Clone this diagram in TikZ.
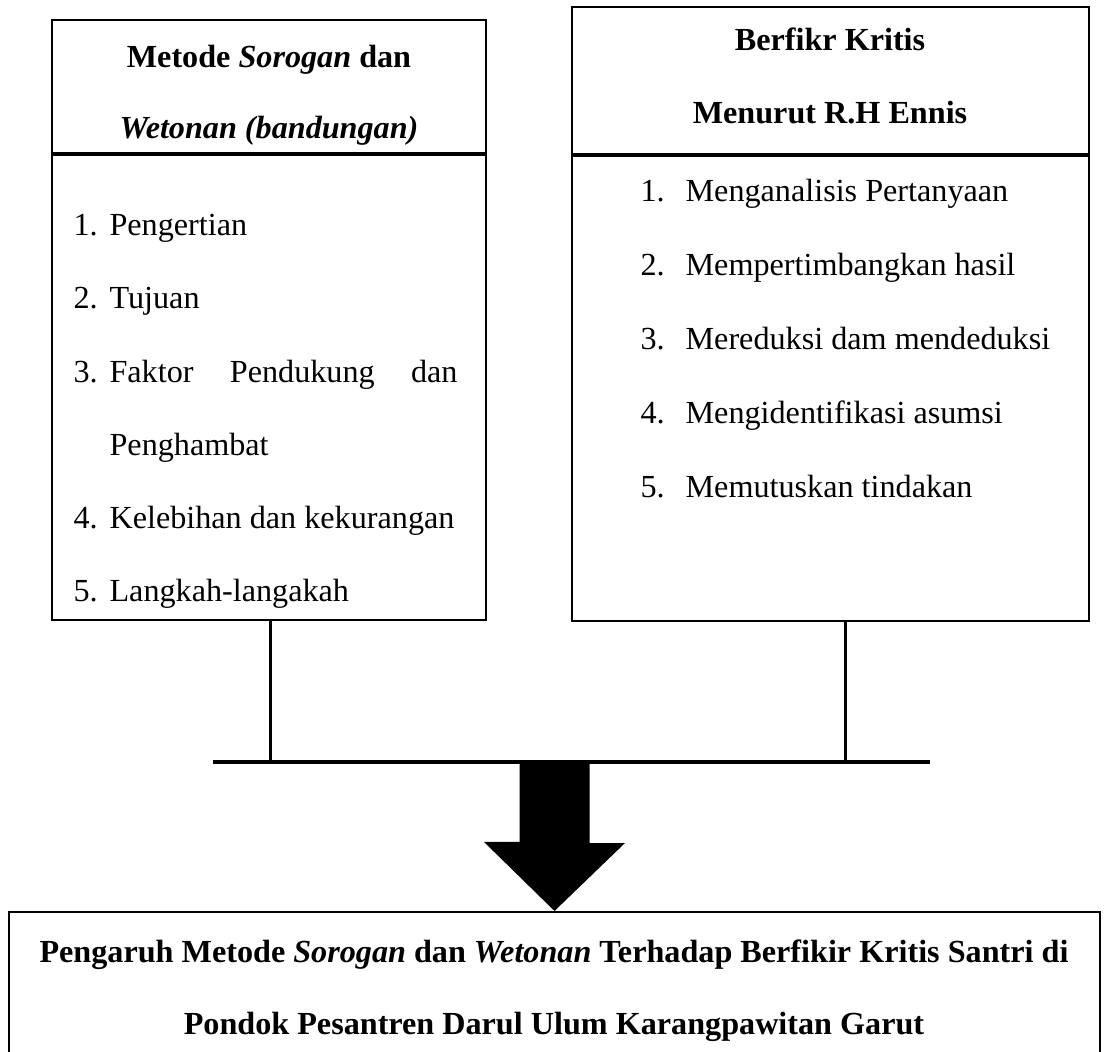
\documentclass[tikz,border=0pt]{standalone}
\usepackage{fontspec}
\setmainfont{Liberation Serif}
\usepackage{tikz}
\usetikzlibrary{calc, fit, positioning}
\tikzstyle{kotak}=[rectangle, draw, line width=0.75pt, inner sep=0pt]
\tikzstyle{teks}=[inner sep=0pt, font=\fontsize{11.7}{14}\selectfont]
\tikzstyle{judul}=[inner sep=0pt, font=\fontsize{11.7}{14}\selectfont\bfseries]
\newcommand{\nomorKiri}[1]{\makebox[13.1pt][l]{#1}}
\newcommand{\nomorKanan}[1]{\makebox[16.4pt][l]{#1}}

\begin{document}
\begin{tikzpicture}[x=0.3636pt, y=-0.3636pt]
\useasboundingbox (0,0) rectangle (1105,1052);

% Kotak kiri
\node (kiri) [kotak, fit={(52,20) (486,620)}] {};
\coordinate (garisKiri) at (0,154);
\draw[line width=1.2pt] (kiri.west |- garisKiri) -- (kiri.east |- garisKiri);

\node (judulKiri1) [judul, anchor=mid] at (269,61) {Metode \textit{Sorogan} dan};
\node (judulKiri2) [judul, anchor=mid] at (269,132) {\textit{Wetonan (bandungan)}};

\node (itemKiri1) [teks, anchor=mid west] at (73,229) {\nomorKiri{1.}Pengertian};
\node (itemKiri2) [teks, anchor=mid west] at (73,302) {\nomorKiri{2.}Tujuan};
\node (itemKiri3) [teks, anchor=mid west] at (73,376) {\nomorKiri{3.}\makebox[126.5pt][s]{Faktor Pendukung dan}};
\node (itemKiri3b) [teks, anchor=mid west] at (73,449) {\nomorKiri{}Penghambat};
\node (itemKiri4) [teks, anchor=mid west] at (73,522) {\nomorKiri{4.}Kelebihan dan kekurangan};
\node (itemKiri5) [teks, anchor=mid west] at (73,595) {\nomorKiri{5.}Langkah-langakah};

% Kotak kanan
\node (kanan) [kotak, fit={(572,7) (1089,621)}] {};
\coordinate (garisKanan) at (0,155);
\draw[line width=1.2pt] (kanan.west |- garisKanan) -- (kanan.east |- garisKanan);

\node (judulKanan1) [judul, anchor=mid] at (830,44) {Berfikr Kritis};
\node (judulKanan2) [judul, anchor=mid] at (830,117) {Menurut R.H Ennis};

\node (itemKanan1) [teks, anchor=mid west] at (640,195) {\nomorKanan{1.}Menganalisis Pertanyaan};
\node (itemKanan2) [teks, anchor=mid west] at (640,269) {\nomorKanan{2.}Mempertimbangkan hasil};
\node (itemKanan3) [teks, anchor=mid west] at (640,343) {\nomorKanan{3.}Mereduksi dam mendeduksi};
\node (itemKanan4) [teks, anchor=mid west] at (640,417) {\nomorKanan{4.}Mengidentifikasi asumsi};
\node (itemKanan5) [teks, anchor=mid west] at (640,491) {\nomorKanan{5.}Memutuskan tindakan};

% Garis penghubung
\coordinate (barKiri) at (213,762);
\coordinate (barKanan) at (930,762);
\coordinate (turunKiri) at ($(kiri.south)+(1.5,0)$);
\coordinate (turunKanan) at ($(kanan.south)+(15,0)$);
\draw[line width=1.2pt] (barKiri) -- (barKanan);
\draw[line width=0.8pt] (turunKiri) -- (turunKiri |- barKiri);
\draw[line width=0.8pt] (turunKanan) -- (turunKanan |- barKiri);

% Kotak bawah
\node (bawah) [kotak, fit={(9,912) (1100,1070)}] {};
\node (judulBawah1) [judul, anchor=mid] at (554,956) {Pengaruh Metode \textit{Sorogan} dan \textit{Wetonan} Terhadap Berfikir Kritis Santri di};
\node (judulBawah2) [judul, anchor=mid] at (554,1028) {Pondok Pesantren Darul Ulum Karangpawitan Garut};

% Panah besar
\coordinate (panahAtas) at (bawah.north |- barKiri);
\fill ($(panahAtas)+(-35,-2)$) -- ++(70,0) -- ++(0,83) -- ++(35.5,0)
  -- (bawah.north) -- ++(-70.5,-69) -- ++(35.5,0) -- cycle;

\end{tikzpicture}
\end{document}
